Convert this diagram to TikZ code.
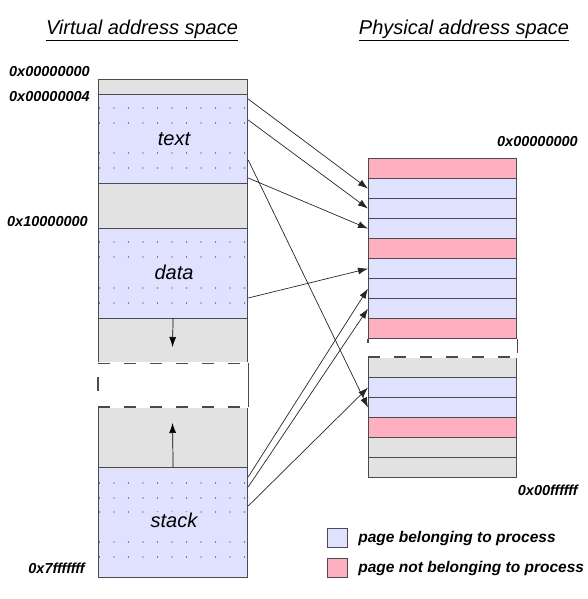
\documentclass[tikz,border=0pt]{standalone}
\usepackage{fontspec}
\setmainfont{Liberation Sans}
\usetikzlibrary{arrows.meta}
\definecolor{ownpg}{RGB}{224,224,255}
\definecolor{otherpg}{RGB}{255,176,192}
\definecolor{freepg}{RGB}{226,226,226}
\definecolor{rim}{RGB}{75,75,75}

\begin{document}
\begin{tikzpicture}[x=1pt,y=-1pt,>={Latex[length=10pt,width=7pt]},
    page/.style={draw=rim,line width=1.2pt,inner sep=0pt,anchor=north west},
    vpage/.style={page,minimum width=149pt},
    ppage/.style={page,minimum width=148pt,minimum height=20pt},
    map/.style={->,draw=black!85,line width=0.7pt},
    gap/.style={draw=rim,line width=1.2pt,dash pattern=on 12pt off 14pt},
    addr/.style={font=\fontsize{14.5}{14.5}\selectfont\bfseries\itshape,inner sep=0pt},
    seg/.style={font=\fontsize{20}{20}\selectfont\itshape,fill=ownpg,inner sep=1pt},
    title/.style={font=\fontsize{20}{20}\selectfont\itshape,inner sep=0pt},
    key/.style={font=\fontsize{15.5}{15.5}\selectfont\bfseries\itshape,inner sep=0pt,anchor=west}]
    \useasboundingbox (0,0) rectangle (587,599);

    \node[title] (vtitle) at (142,30) {\underline{Virtual address space}};
    \node[title] (ptitle) at (464,30) {\underline{Physical address space}};

    % virtual address space
    \node[vpage,fill=freepg,minimum height=15pt]  (v0)     at (98,79)  {};
    \node[vpage,fill=ownpg,minimum height=89pt]   (vtext)  at (98,94)  {};
    \node[vpage,fill=freepg,minimum height=45pt]  (v1)     at (98,183) {};
    \node[vpage,fill=ownpg,minimum height=90pt]   (vdata)  at (98,228) {};
    \node[vpage,fill=freepg,minimum height=44pt]  (vheap)  at (98,318) {};
    \node[vpage,fill=freepg,minimum height=60pt]  (vgrow)  at (98,407) {};
    \node[vpage,fill=ownpg,minimum height=110pt]  (vstack) at (98,467) {};
    \foreach \y in {108,123,153,168,242,257,288,303,483,498,512,542,557}
        \foreach \x in {0,...,10}
            \fill[black!85] ({99.5+14.5*\x},\y) circle (0.55pt);
    \node[seg] (ltext)  at (174,139) {text};
    \node[seg] (ldata)  at (174,272) {data};
    \node[seg] (lstack) at (174,520) {stack};

    % unmapped hole
    \draw[white,line width=2pt] (vheap.south west) -- (vheap.south east);
    \draw[white,line width=2pt] (vgrow.north west) -- (vgrow.north east);
    \draw[gap] (vheap.south west) -- (vheap.south east);
    \draw[gap] (vgrow.north west) -- (vgrow.north east);
    \draw[rim,line width=1.2pt] (vheap.south east) -- (vgrow.north east);
    \draw[rim,line width=1.2pt] (98,377) -- (98,391);

    \coordinate (heapend) at (172.5,347);
    \coordinate (stackend) at (172.5,423);
    \draw[->,line width=0.7pt] (vheap.north) -- (heapend);
    \draw[->,line width=0.7pt] (vstack.north) -- (stackend);

    % physical address space
    \foreach \c [count=\i from 0] in {otherpg,ownpg,ownpg,ownpg,otherpg,ownpg,ownpg,ownpg,otherpg}
        \node[ppage,fill=\c] (p\i) at (368,{158+20*\i}) {};
    \foreach \c [count=\i from 0] in {freepg,ownpg,ownpg,otherpg,freepg,freepg}
        \node[ppage,fill=\c] (q\i) at (368,{357+20*\i}) {};
    \draw[white,line width=2pt] (q0.north west) -- (q0.north east);
    \draw[gap] (q0.north west) -- (q0.north east);
    \draw[rim,line width=1.2pt] (p8.south west) -- ++(0,4);
    \draw[rim,line width=1.2pt] (p8.south east) -- ++(0,14);

    \node[addr,anchor=east] (a0) at (90,72)   {0x00000000};
    \node[addr,anchor=east] (a4) at (90,97)   {0x00000004};
    \node[addr,anchor=east] (a1) at (88,222)  {0x10000000};
    \node[addr,anchor=east] (a7) at (85,568)  {0x7fffffff};
    \node[addr,anchor=east] (b0) at (578,142) {0x00000000};
    \node[addr,anchor=east] (bf) at (578,490) {0x00ffffff};

    % page mappings
    \draw[map] ([yshift=-5pt]vtext.north east)   -- (p1.west);
    \draw[map] ([yshift=-26pt]vtext.north east)  -- (p2.west);
    \draw[map] ([yshift=-84pt]vtext.north east)  -- (p3.west);
    \draw[map] ([yshift=-66pt]vtext.north east)  -- (q2.west);
    \draw[map] ([yshift=-70pt]vdata.north east)  -- (p5.west);
    \draw[map] ([yshift=-10pt]vstack.north east) -- (p6.west);
    \draw[map] ([yshift=-20pt]vstack.north east) -- (p7.west);
    \draw[map] ([yshift=-39pt]vstack.north east) -- (q1.west);

    % legend
    \node[page,fill=ownpg,minimum width=20pt,minimum height=19pt]   (k1) at (327,528) {};
    \node[page,fill=otherpg,minimum width=20pt,minimum height=19pt] (k2) at (327,558) {};
    \node[key] (t1) at ([xshift=10pt]k1.east) {page belonging to process};
    \node[key] (t2) at ([xshift=10pt]k2.east) {page not belonging to process};
\end{tikzpicture}
\end{document}
